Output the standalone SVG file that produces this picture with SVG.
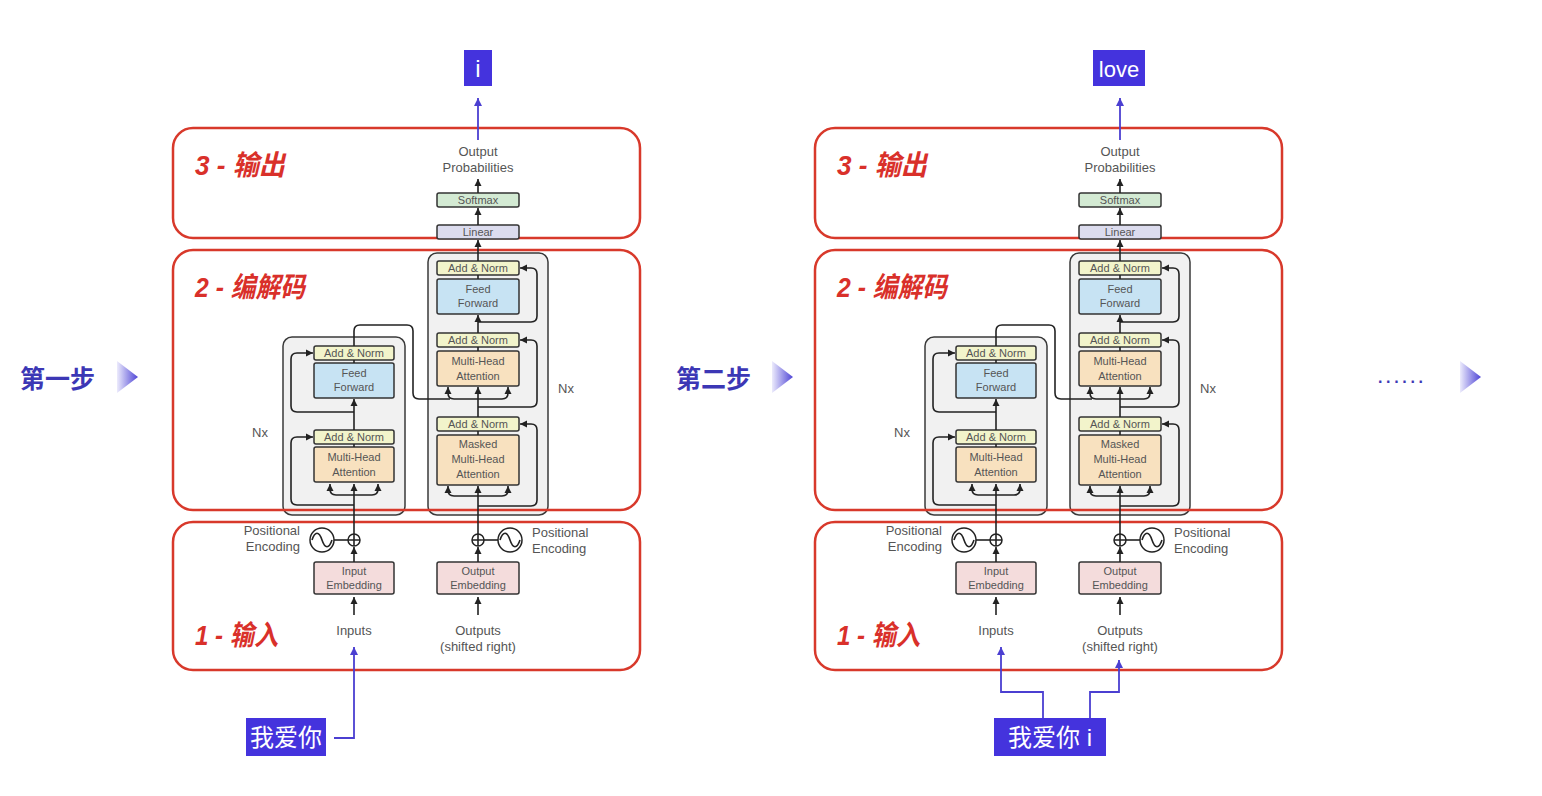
<svg xmlns="http://www.w3.org/2000/svg" width="1542" height="796" viewBox="0 0 1542 796">
<defs>
<style>
.red{fill:none;stroke:#d8392b;stroke-width:2.5}
.stack{fill:#f1f1f1;stroke:#3a3a3a;stroke-width:1.5}
.blk{stroke:#333;stroke-width:1.5}
.an{fill:#f2f4cb}
.ff{fill:#c7e3f3}
.mha{fill:#f8e1bf}
.emb{fill:#f4dcdc}
.lin{fill:#dcdcee}
.sm{fill:#d3ead3}
.lbl{font-family:"Liberation Sans",Arial,sans-serif;font-size:11px;fill:#555;text-anchor:middle}
.lbl13{font-family:"Liberation Sans",Arial,sans-serif;font-size:13px;fill:#555}
.sec{font-family:"Liberation Sans","Noto Sans CJK SC",sans-serif;font-size:28px;font-weight:bold;font-style:italic;fill:#d9302a}
.step{font-family:"Liberation Sans","Noto Sans CJK SC",sans-serif;font-size:25px;font-weight:bold;fill:#3c37b5}
.tok{fill:#4433dd}
.toktxt{font-family:"Liberation Sans","Noto Sans CJK SC",sans-serif;font-size:24px;fill:#ffffff;text-anchor:middle}
.wire{fill:none;stroke:#222;stroke-width:1.6}
.pw{fill:none;stroke:#4b3fd1;stroke-width:1.8}
.pe{fill:#fff;stroke:#222;stroke-width:1.5}
</style>
<marker id="ah" markerUnits="userSpaceOnUse" markerWidth="8" markerHeight="8" refX="7" refY="4" orient="auto-start-reverse"><path d="M0,0.5 L7,4 L0,7.5 z" fill="#222"/></marker>
<marker id="ap" markerUnits="userSpaceOnUse" markerWidth="9" markerHeight="9" refX="8" refY="4.5" orient="auto-start-reverse"><path d="M0,0.5 L8,4.5 L0,8.5 z" fill="#4b3fd1"/></marker>
<linearGradient id="tri" x1="0" y1="0" x2="1" y2="0"><stop offset="0" stop-color="#ecebfc"/><stop offset="1" stop-color="#4f45d6"/></linearGradient>
</defs>
<rect x="0" y="0" width="1542" height="796" fill="#ffffff"/>

<!-- step labels -->
<g id="step1"><text class="step" x="20" y="388">第一步</text><path d="M117,361 L138,377 L117,393 Z" fill="url(#tri)"/></g>
<g id="step2"><text class="step" x="676" y="388">第二步</text><path d="M772,361 L793,377 L772,393 Z" fill="url(#tri)"/></g>
<g id="step3"><text x="1378" y="383" font-family="Liberation Sans,sans-serif" font-size="16" font-weight="bold" fill="#3c37b5" textLength="45" lengthAdjust="spacing">......</text><path d="M1460,361 L1481,377 L1460,393 Z" fill="url(#tri)"/></g>

<!-- ================= LEFT PANEL ================= -->
<g id="panel-a">
<g id="a-enc-stack"><rect class="stack" x="283" y="337" width="122" height="178" rx="9"/><text class="lbl13" x="252" y="437">Nx</text></g>
<g id="a-dec-stack"><rect class="stack" x="428" y="253" width="120" height="262" rx="9"/><text class="lbl13" x="558" y="393">Nx</text></g>
<g id="a-frames">
<rect class="red" x="173" y="128" width="467" height="110" rx="20"/>
<rect class="red" x="173" y="250" width="467" height="260" rx="20"/>
<rect class="red" x="173" y="522" width="467" height="148" rx="20"/>
</g>
<g id="a-sec3"><text class="sec" x="195" y="175" textLength="90" lengthAdjust="spacingAndGlyphs">3 - 输出</text></g>
<g id="a-sec2"><text class="sec" x="195" y="297" textLength="110" lengthAdjust="spacingAndGlyphs">2 - 编解码</text></g>
<g id="a-sec1"><text class="sec" x="195" y="645" textLength="83" lengthAdjust="spacingAndGlyphs">1 - 输入</text></g>

<g id="a-enc-an2"><rect class="blk an" x="314" y="346" width="80" height="14" rx="2"/><text class="lbl" x="354" y="357">Add &amp; Norm</text></g>
<g id="a-enc-ff"><rect class="blk ff" x="314" y="363" width="80" height="35" rx="2"/><text class="lbl" x="354" y="377">Feed</text><text class="lbl" x="354" y="391">Forward</text></g>
<g id="a-enc-an1"><rect class="blk an" x="314" y="430" width="80" height="14" rx="2"/><text class="lbl" x="354" y="441">Add &amp; Norm</text></g>
<g id="a-enc-mha"><rect class="blk mha" x="314" y="447" width="80" height="35" rx="2"/><text class="lbl" x="354" y="461">Multi-Head</text><text class="lbl" x="354" y="476">Attention</text></g>

<g id="a-dec-an3"><rect class="blk an" x="437" y="261" width="82" height="14" rx="2"/><text class="lbl" x="478" y="272">Add &amp; Norm</text></g>
<g id="a-dec-ff"><rect class="blk ff" x="437" y="279" width="82" height="35" rx="2"/><text class="lbl" x="478" y="293">Feed</text><text class="lbl" x="478" y="307">Forward</text></g>
<g id="a-dec-an2"><rect class="blk an" x="437" y="333" width="82" height="14" rx="2"/><text class="lbl" x="478" y="344">Add &amp; Norm</text></g>
<g id="a-dec-mha"><rect class="blk mha" x="437" y="351" width="82" height="35" rx="2"/><text class="lbl" x="478" y="365">Multi-Head</text><text class="lbl" x="478" y="380">Attention</text></g>
<g id="a-dec-an1"><rect class="blk an" x="437" y="417" width="82" height="14" rx="2"/><text class="lbl" x="478" y="428">Add &amp; Norm</text></g>
<g id="a-dec-masked"><rect class="blk mha" x="437" y="435" width="82" height="50" rx="2"/><text class="lbl" x="478" y="448">Masked</text><text class="lbl" x="478" y="463">Multi-Head</text><text class="lbl" x="478" y="478">Attention</text></g>

<g id="a-linear"><rect class="blk lin" x="437" y="225" width="82" height="14" rx="2"/><text class="lbl" x="478" y="236">Linear</text></g>
<g id="a-softmax"><rect class="blk sm" x="437" y="193" width="82" height="14" rx="2"/><text class="lbl" x="478" y="204">Softmax</text></g>
<g id="a-outprob"><text class="lbl13" x="478" y="156" text-anchor="middle">Output</text><text class="lbl13" x="478" y="172" text-anchor="middle">Probabilities</text></g>

<g id="a-in-emb"><rect class="blk emb" x="314" y="562" width="80" height="32" rx="2"/><text class="lbl" x="354" y="575">Input</text><text class="lbl" x="354" y="589">Embedding</text></g>
<g id="a-out-emb"><rect class="blk emb" x="437" y="562" width="82" height="32" rx="2"/><text class="lbl" x="478" y="575">Output</text><text class="lbl" x="478" y="589">Embedding</text></g>

<g id="a-pe-enc">
<line class="wire" x1="334" y1="540" x2="348" y2="540"/>
<circle class="pe" cx="322" cy="540" r="12"/><path class="wire" d="M312,540 C315,531 319,531 322,540 C325,549 329,549 332,540"/>
<circle class="pe" cx="354" cy="540" r="6"/><path class="wire" d="M348,540 H360 M354,534 V546"/>
<text class="lbl13" x="300" y="535" text-anchor="end">Positional</text><text class="lbl13" x="300" y="551" text-anchor="end">Encoding</text>
</g>
<g id="a-pe-dec">
<line class="wire" x1="484" y1="540" x2="498" y2="540"/>
<circle class="pe" cx="510" cy="540" r="12"/><path class="wire" d="M500,540 C503,531 507,531 510,540 C513,549 517,549 520,540"/>
<circle class="pe" cx="478" cy="540" r="6"/><path class="wire" d="M472,540 H484 M478,534 V546"/>
<text class="lbl13" x="532" y="537">Positional</text><text class="lbl13" x="532" y="553">Encoding</text>
</g>
<g id="a-inputs"><text class="lbl13" x="354" y="635" text-anchor="middle">Inputs</text></g>
<g id="a-outputs"><text class="lbl13" x="478" y="635" text-anchor="middle">Outputs</text><text class="lbl13" x="478" y="651" text-anchor="middle">(shifted right)</text></g>

<g id="a-tok-out"><rect class="tok" x="464" y="50" width="28" height="36"/><text class="toktxt" x="478" y="77">i</text></g>

<g id="a-connectors">
<path class="wire" d="M354,615 V597" marker-end="url(#ah)"/>
<path class="wire" d="M478,615 V597" marker-end="url(#ah)"/>
<path class="wire" d="M354,562 V547" marker-end="url(#ah)"/>
<path class="wire" d="M478,562 V547" marker-end="url(#ah)"/>
<path class="wire" d="M354,534 V484" marker-end="url(#ah)"/>
<path class="wire" d="M330,484 V489 Q330,495 336,495 H372 Q378,495 378,489 V484" marker-start="url(#ah)" marker-end="url(#ah)"/>
<path class="wire" d="M354,505 H297 Q291,505 291,499 V443 Q291,437 297,437 H313" marker-end="url(#ah)"/>
<path class="wire" d="M354,447 V444"/>
<path class="wire" d="M354,430 V399" marker-end="url(#ah)"/>
<path class="wire" d="M354,412 H297 Q291,412 291,406 V359 Q291,353 297,353 H313" marker-end="url(#ah)"/>
<path class="wire" d="M354,363 V360"/>
<path class="wire" d="M354,346 V331 Q354,325 360,325 H407 Q413,325 413,331 V393 Q413,399 419,399 H450"/>
<path class="wire" d="M448,387 V393 Q448,399 454,399 H502 Q508,399 508,393 V387" marker-start="url(#ah)" marker-end="url(#ah)"/>
<path class="wire" d="M478,534 V486" marker-end="url(#ah)"/>
<path class="wire" d="M448,486 V490 Q448,496 454,496 H502 Q508,496 508,490 V486" marker-start="url(#ah)" marker-end="url(#ah)"/>
<path class="wire" d="M478,506 H531 Q537,506 537,500 V430 Q537,424 531,424 H520" marker-end="url(#ah)"/>
<path class="wire" d="M478,435 V431"/>
<path class="wire" d="M478,417 V387" marker-end="url(#ah)"/>
<path class="wire" d="M478,407 H531 Q537,407 537,401 V346 Q537,340 531,340 H520" marker-end="url(#ah)"/>
<path class="wire" d="M478,351 V347"/>
<path class="wire" d="M478,333 V315" marker-end="url(#ah)"/>
<path class="wire" d="M478,322 H531 Q537,322 537,316 V274 Q537,268 531,268 H520" marker-end="url(#ah)"/>
<path class="wire" d="M478,279 V275"/>
<path class="wire" d="M478,261 V240" marker-end="url(#ah)"/>
<path class="wire" d="M478,225 V208" marker-end="url(#ah)"/>
<path class="wire" d="M478,193 V179" marker-end="url(#ah)"/>
<path class="pw" d="M478,140 V98" marker-end="url(#ap)"/>
<path class="pw" d="M334,738 H354 V647" marker-end="url(#ap)"/>
</g>
<g id="a-tok-in"><rect class="tok" x="246" y="718" width="80" height="38"/><text class="toktxt" x="286" y="746">我爱你</text></g>
</g>

<!-- ================= RIGHT PANEL ================= -->
<g id="panel-b">
<g transform="translate(642,0)">
<g id="b-enc-stack"><rect class="stack" x="283" y="337" width="122" height="178" rx="9"/><text class="lbl13" x="252" y="437">Nx</text></g>
<g id="b-dec-stack"><rect class="stack" x="428" y="253" width="120" height="262" rx="9"/><text class="lbl13" x="558" y="393">Nx</text></g>
<g id="b-frames">
<rect class="red" x="173" y="128" width="467" height="110" rx="20"/>
<rect class="red" x="173" y="250" width="467" height="260" rx="20"/>
<rect class="red" x="173" y="522" width="467" height="148" rx="20"/>
</g>
<g id="b-sec3"><text class="sec" x="195" y="175" textLength="90" lengthAdjust="spacingAndGlyphs">3 - 输出</text></g>
<g id="b-sec2"><text class="sec" x="195" y="297" textLength="110" lengthAdjust="spacingAndGlyphs">2 - 编解码</text></g>
<g id="b-sec1"><text class="sec" x="195" y="645" textLength="83" lengthAdjust="spacingAndGlyphs">1 - 输入</text></g>

<g id="b-enc-an2"><rect class="blk an" x="314" y="346" width="80" height="14" rx="2"/><text class="lbl" x="354" y="357">Add &amp; Norm</text></g>
<g id="b-enc-ff"><rect class="blk ff" x="314" y="363" width="80" height="35" rx="2"/><text class="lbl" x="354" y="377">Feed</text><text class="lbl" x="354" y="391">Forward</text></g>
<g id="b-enc-an1"><rect class="blk an" x="314" y="430" width="80" height="14" rx="2"/><text class="lbl" x="354" y="441">Add &amp; Norm</text></g>
<g id="b-enc-mha"><rect class="blk mha" x="314" y="447" width="80" height="35" rx="2"/><text class="lbl" x="354" y="461">Multi-Head</text><text class="lbl" x="354" y="476">Attention</text></g>

<g id="b-dec-an3"><rect class="blk an" x="437" y="261" width="82" height="14" rx="2"/><text class="lbl" x="478" y="272">Add &amp; Norm</text></g>
<g id="b-dec-ff"><rect class="blk ff" x="437" y="279" width="82" height="35" rx="2"/><text class="lbl" x="478" y="293">Feed</text><text class="lbl" x="478" y="307">Forward</text></g>
<g id="b-dec-an2"><rect class="blk an" x="437" y="333" width="82" height="14" rx="2"/><text class="lbl" x="478" y="344">Add &amp; Norm</text></g>
<g id="b-dec-mha"><rect class="blk mha" x="437" y="351" width="82" height="35" rx="2"/><text class="lbl" x="478" y="365">Multi-Head</text><text class="lbl" x="478" y="380">Attention</text></g>
<g id="b-dec-an1"><rect class="blk an" x="437" y="417" width="82" height="14" rx="2"/><text class="lbl" x="478" y="428">Add &amp; Norm</text></g>
<g id="b-dec-masked"><rect class="blk mha" x="437" y="435" width="82" height="50" rx="2"/><text class="lbl" x="478" y="448">Masked</text><text class="lbl" x="478" y="463">Multi-Head</text><text class="lbl" x="478" y="478">Attention</text></g>

<g id="b-linear"><rect class="blk lin" x="437" y="225" width="82" height="14" rx="2"/><text class="lbl" x="478" y="236">Linear</text></g>
<g id="b-softmax"><rect class="blk sm" x="437" y="193" width="82" height="14" rx="2"/><text class="lbl" x="478" y="204">Softmax</text></g>
<g id="b-outprob"><text class="lbl13" x="478" y="156" text-anchor="middle">Output</text><text class="lbl13" x="478" y="172" text-anchor="middle">Probabilities</text></g>

<g id="b-in-emb"><rect class="blk emb" x="314" y="562" width="80" height="32" rx="2"/><text class="lbl" x="354" y="575">Input</text><text class="lbl" x="354" y="589">Embedding</text></g>
<g id="b-out-emb"><rect class="blk emb" x="437" y="562" width="82" height="32" rx="2"/><text class="lbl" x="478" y="575">Output</text><text class="lbl" x="478" y="589">Embedding</text></g>

<g id="b-pe-enc">
<line class="wire" x1="334" y1="540" x2="348" y2="540"/>
<circle class="pe" cx="322" cy="540" r="12"/><path class="wire" d="M312,540 C315,531 319,531 322,540 C325,549 329,549 332,540"/>
<circle class="pe" cx="354" cy="540" r="6"/><path class="wire" d="M348,540 H360 M354,534 V546"/>
<text class="lbl13" x="300" y="535" text-anchor="end">Positional</text><text class="lbl13" x="300" y="551" text-anchor="end">Encoding</text>
</g>
<g id="b-pe-dec">
<line class="wire" x1="484" y1="540" x2="498" y2="540"/>
<circle class="pe" cx="510" cy="540" r="12"/><path class="wire" d="M500,540 C503,531 507,531 510,540 C513,549 517,549 520,540"/>
<circle class="pe" cx="478" cy="540" r="6"/><path class="wire" d="M472,540 H484 M478,534 V546"/>
<text class="lbl13" x="532" y="537">Positional</text><text class="lbl13" x="532" y="553">Encoding</text>
</g>
<g id="b-inputs"><text class="lbl13" x="354" y="635" text-anchor="middle">Inputs</text></g>
<g id="b-outputs"><text class="lbl13" x="478" y="635" text-anchor="middle">Outputs</text><text class="lbl13" x="478" y="651" text-anchor="middle">(shifted right)</text></g>

<g id="b-tok-out"><rect class="tok" x="451" y="50" width="52" height="36"/><text class="toktxt" x="477" y="77" style="font-size:22px">love</text></g>

<g id="b-connectors">
<path class="wire" d="M354,615 V597" marker-end="url(#ah)"/>
<path class="wire" d="M478,615 V597" marker-end="url(#ah)"/>
<path class="wire" d="M354,562 V547" marker-end="url(#ah)"/>
<path class="wire" d="M478,562 V547" marker-end="url(#ah)"/>
<path class="wire" d="M354,534 V484" marker-end="url(#ah)"/>
<path class="wire" d="M330,484 V489 Q330,495 336,495 H372 Q378,495 378,489 V484" marker-start="url(#ah)" marker-end="url(#ah)"/>
<path class="wire" d="M354,505 H297 Q291,505 291,499 V443 Q291,437 297,437 H313" marker-end="url(#ah)"/>
<path class="wire" d="M354,447 V444"/>
<path class="wire" d="M354,430 V399" marker-end="url(#ah)"/>
<path class="wire" d="M354,412 H297 Q291,412 291,406 V359 Q291,353 297,353 H313" marker-end="url(#ah)"/>
<path class="wire" d="M354,363 V360"/>
<path class="wire" d="M354,346 V331 Q354,325 360,325 H407 Q413,325 413,331 V393 Q413,399 419,399 H450"/>
<path class="wire" d="M448,387 V393 Q448,399 454,399 H502 Q508,399 508,393 V387" marker-start="url(#ah)" marker-end="url(#ah)"/>
<path class="wire" d="M478,534 V486" marker-end="url(#ah)"/>
<path class="wire" d="M448,486 V490 Q448,496 454,496 H502 Q508,496 508,490 V486" marker-start="url(#ah)" marker-end="url(#ah)"/>
<path class="wire" d="M478,506 H531 Q537,506 537,500 V430 Q537,424 531,424 H520" marker-end="url(#ah)"/>
<path class="wire" d="M478,435 V431"/>
<path class="wire" d="M478,417 V387" marker-end="url(#ah)"/>
<path class="wire" d="M478,407 H531 Q537,407 537,401 V346 Q537,340 531,340 H520" marker-end="url(#ah)"/>
<path class="wire" d="M478,351 V347"/>
<path class="wire" d="M478,333 V315" marker-end="url(#ah)"/>
<path class="wire" d="M478,322 H531 Q537,322 537,316 V274 Q537,268 531,268 H520" marker-end="url(#ah)"/>
<path class="wire" d="M478,279 V275"/>
<path class="wire" d="M478,261 V240" marker-end="url(#ah)"/>
<path class="wire" d="M478,225 V208" marker-end="url(#ah)"/>
<path class="wire" d="M478,193 V179" marker-end="url(#ah)"/>
<path class="pw" d="M478,140 V98" marker-end="url(#ap)"/>
</g>
</g>
<g id="b-in-connectors">
<path class="pw" d="M1043,718 V692 H1001 V647" marker-end="url(#ap)"/>
<path class="pw" d="M1090,718 V692 H1119 V660" marker-end="url(#ap)"/>
</g>
<g id="b-tok-in"><rect class="tok" x="994" y="718" width="112" height="38"/><text class="toktxt" x="1050" y="746">我爱你 i</text></g>
</g>
</svg>
